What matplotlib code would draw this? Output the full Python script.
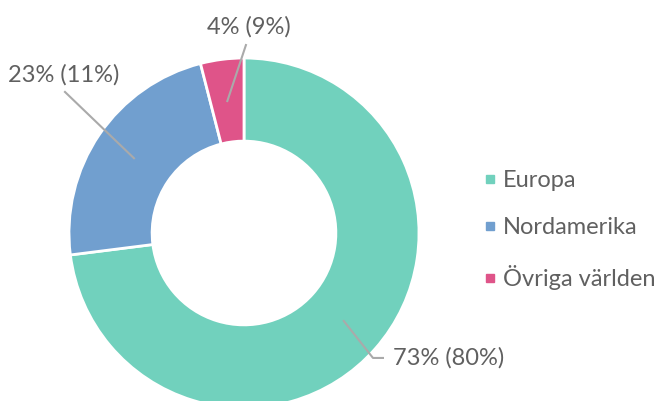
import numpy as np
import matplotlib.pyplot as plt
from matplotlib.lines import Line2D

# data
regions = ["Europa", "Nordamerika", "Övriga världen"]
shares = [73, 23, 4]
labels = ["73% (80%)", "23% (11%)", "4% (9%)"]
colors = ["#71D1BD", "#719FCF", "#DF5489"]

# label text anchor points (pie units) and leader line bends
label_pos = [(0.851, -0.714), (-1.03, 0.903), (0.03, 1.177)]
line_end = [(0.737, -0.714), (-1.023, 0.806), (0.011, 1.074)]

plt.rcParams['font.family'] = ['Lato', 'DejaVu Sans']
text_color = "#606060"
fs = 17

fig = plt.figure(figsize=(6.59, 4.01), dpi=100)
W, H = 659, 401
cx, cy, r = 244, 233, 175  # pixel centre and radius
ax = fig.add_axes([(cx - r) / W, (H - cy - r) / H, 2 * r / W, 2 * r / H])

wedges, _ = ax.pie(shares, colors=colors, startangle=90, counterclock=False,
                   radius=1, wedgeprops=dict(width=0.475, edgecolor="white", linewidth=2))
ax.set_xlim(-1, 1)
ax.set_ylim(-1, 1)
ax.axis("off")

for w, lab, (tx, ty), (ex, ey) in zip(wedges, labels, label_pos, line_end):
    ang = np.deg2rad((w.theta1 + w.theta2) / 2)
    sx, sy = 0.76 * np.cos(ang), 0.76 * np.sin(ang)
    if lab.startswith("73"):
        xs, ys = [sx, ex, tx - 0.057], [sy, ey, ty]
        ax.plot(xs, ys, color="#aaaaaa", lw=1.5, clip_on=False)
        ax.text(tx, ty, lab, ha="left", va="center", fontsize=fs, color=text_color, clip_on=False)
    else:
        ax.plot([sx, ex], [sy, ey], color="#aaaaaa", lw=1.5, clip_on=False)
        ax.text(tx, ty, lab, ha="center", va="center", fontsize=fs, color=text_color, clip_on=False)

handles = [Line2D([], [], ls="none", marker="s", markersize=6, color=c) for c in colors]
leg = fig.legend(handles, regions, loc="center left", bbox_to_anchor=(472 / W, 1 - 230 / H),
                 frameon=False, fontsize=fs, handlelength=0.5, handletextpad=0.3,
                 labelspacing=1.12, borderpad=0)
for t in leg.get_texts():
    t.set_color(text_color)

fig.savefig("out.png", dpi=100)
